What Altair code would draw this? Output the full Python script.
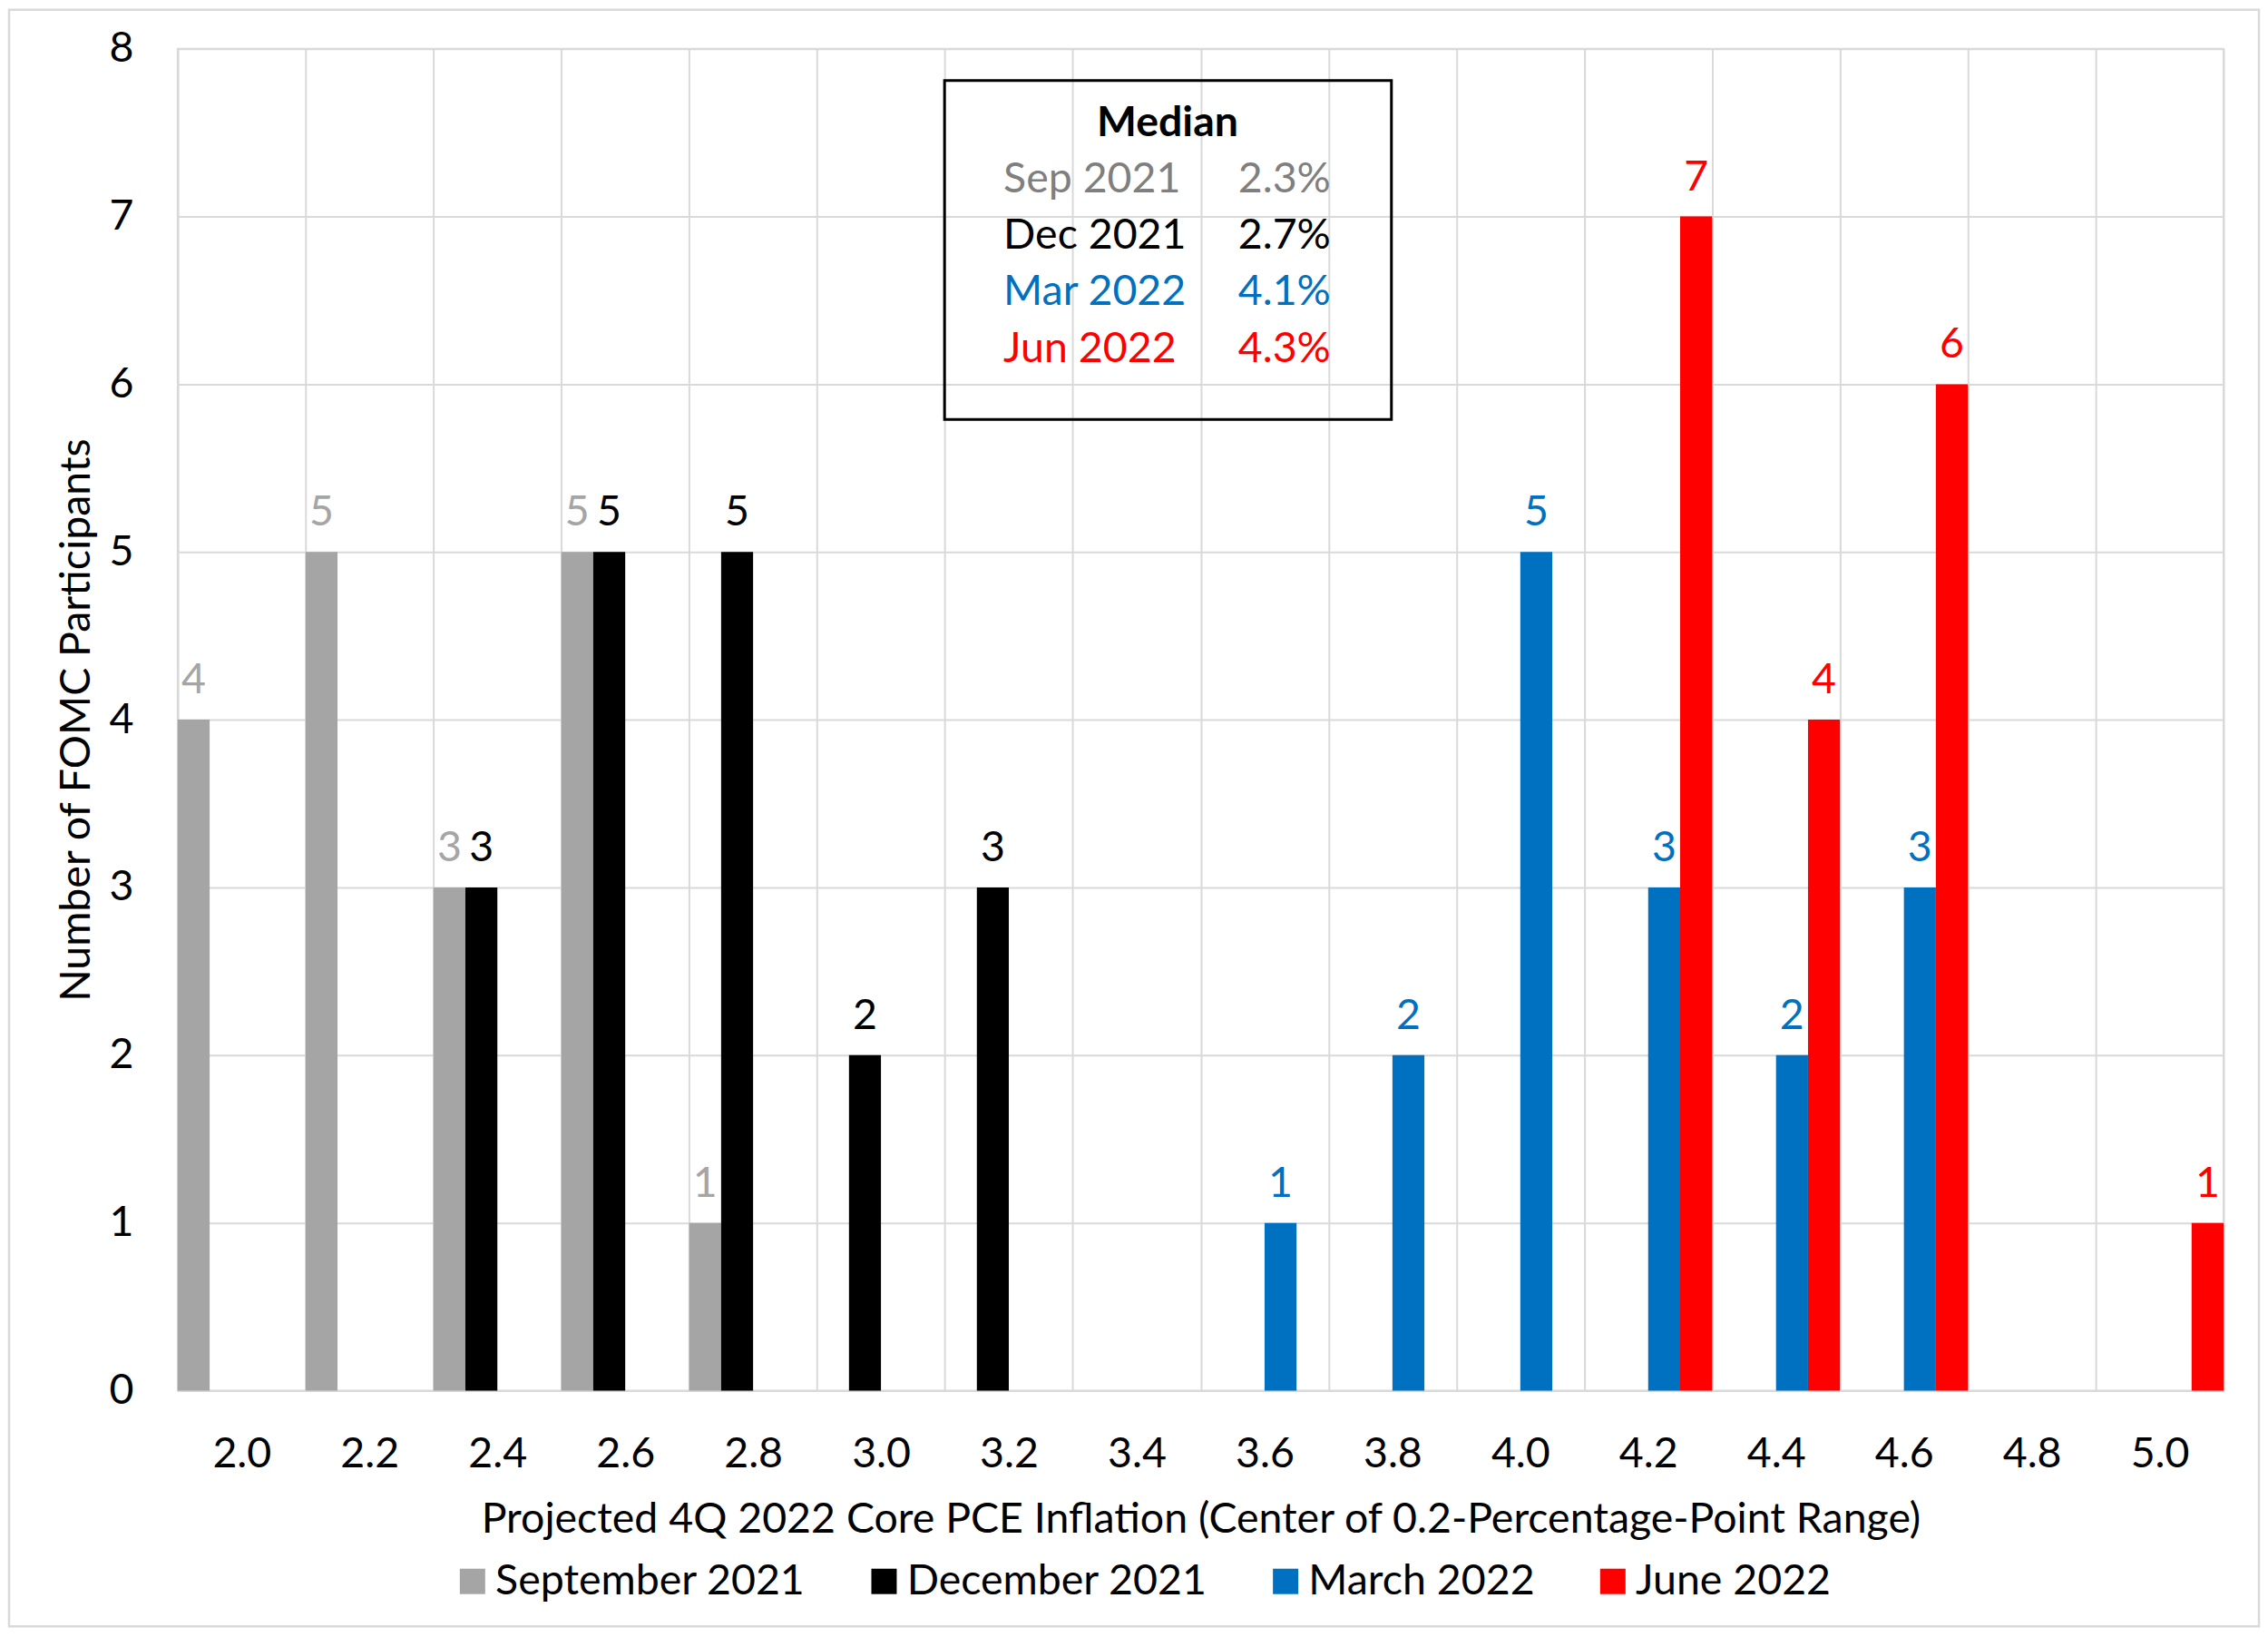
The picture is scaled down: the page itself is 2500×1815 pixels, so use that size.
import altair as alt
import pandas as pd

# ---------------- data ----------------
categories = ["2.0", "2.2", "2.4", "2.6", "2.8", "3.0", "3.2", "3.4",
              "3.6", "3.8", "4.0", "4.2", "4.4", "4.6", "4.8", "5.0"]
series_names = ["September 2021", "December 2021", "March 2022", "June 2022"]
series_colors = ["#A5A5A5", "#000000", "#0070C0", "#FF0000"]

sep_2021 = [4, 5, 3, 5, 1, 0, 0, 0, 0, 0, 0, 0, 0, 0, 0, 0]
dec_2021 = [0, 0, 3, 5, 5, 2, 3, 0, 0, 0, 0, 0, 0, 0, 0, 0]
mar_2022 = [0, 0, 0, 0, 0, 0, 0, 0, 1, 2, 5, 3, 2, 3, 0, 0]
jun_2022 = [0, 0, 0, 0, 0, 0, 0, 0, 0, 0, 0, 7, 4, 6, 0, 1]

median_title = "Median"
median_labels = ["Sep 2021", "Dec 2021", "Mar 2022", "Jun 2022"]
median_values = ["2.3%", "2.7%", "4.1%", "4.3%"]
median_colors = ["#7F7F7F", "#000000", "#0070C0", "#FF0000"]

x_title = "Projected 4Q 2022 Core PCE Inflation (Center of 0.2-Percentage-Point Range)"
y_title = "Number of FOMC Participants"

# ---------------- build table ----------------
rows = []
for name, vals in zip(series_names, [sep_2021, dec_2021, mar_2022, jun_2022]):
    for c, v in zip(categories, vals):
        if v > 0:
            rows.append({"bin": c, "series": name, "count": v})
df = pd.DataFrame(rows)

FONT = "Lato"
FS = 46.5
GRID = "#D9D9D9"
W, H = 2257, 1480

x_enc = alt.X(
    "bin:N",
    sort=categories,
    scale=alt.Scale(domain=categories, paddingInner=0, paddingOuter=0),
    axis=alt.Axis(
        title=x_title, labelAngle=0, grid=True, tickBand="extent",
        ticks=False, tickSize=0, labelPadding=47,
        labelFontSize=FS, labelFont=FONT, labelColor="black",
        titleFontSize=FS, titleFont=FONT, titleColor="black", titleFontWeight="normal",
        titleX=W / 2, titleY=142, titleBaseline="middle", titleAlign="center",
        gridColor=GRID, gridWidth=2, domainColor=GRID, domainWidth=2,
    ),
)
xoff_enc = alt.XOffset(
    "series:N", sort=series_names,
    scale=alt.Scale(domain=series_names, paddingInner=0, paddingOuter=0),
)
y_enc = alt.Y(
    "count:Q",
    scale=alt.Scale(domain=[0, 8], nice=False),
    axis=alt.Axis(
        values=list(range(9)), title=y_title, grid=True,
        ticks=False, tickSize=0, labelPadding=49,
        labelFontSize=FS, labelFont=FONT, labelColor="black",
        titleFontSize=FS, titleFont=FONT, titleColor="black", titleFontWeight="normal",
        titleAngle=270, titleX=-111, titleY=H / 2, titleBaseline="middle", titleAlign="center",
        gridColor=GRID, gridWidth=2, domainColor=GRID, domainWidth=2,
    ),
)
color_enc = alt.Color(
    "series:N",
    scale=alt.Scale(domain=series_names, range=series_colors),
    legend=alt.Legend(
        title=None, orient="none", legendX=302, legendY=1667, direction="horizontal",
        symbolType="square", symbolSize=784, symbolStrokeWidth=0, symbolOpacity=1,
        labelFontSize=FS, labelFont=FONT, labelColor="black", labelOffset=2,
        columnPadding=63, labelLimit=800, padding=0,
    ),
)

bars = alt.Chart(df).mark_bar(cornerRadius=0, strokeWidth=0).encode(
    x=x_enc, xOffset=xoff_enc, y=y_enc, color=color_enc
)
labels = alt.Chart(df).mark_text(
    baseline="alphabetic", align="center", dy=-29, fontSize=FS, font=FONT
).encode(x=x_enc, xOffset=xoff_enc, y=y_enc, text="count:Q", color=color_enc)

one = pd.DataFrame({"k": [0]})
border = alt.Chart(one).mark_rect(fillOpacity=0, stroke=GRID, strokeWidth=2.5).encode(
    x=alt.value(-186), x2=alt.value(2296), y=alt.value(-43), y2=alt.value(1740)
)
med_box = alt.Chart(one).mark_rect(fillOpacity=0, stroke="black", strokeWidth=3).encode(
    x=alt.value(846), x2=alt.value(1339), y=alt.value(35), y2=alt.value(409)
)
med_layers = [
    alt.Chart(pd.DataFrame({"t": [median_title]})).mark_text(
        font=FONT, fontSize=FS, fontWeight="bold", align="center", baseline="middle", color="black"
    ).encode(text="t:N", x=alt.value(1092), y=alt.value(82))
]
for i, (lab, val, col) in enumerate(zip(median_labels, median_values, median_colors)):
    yy = 144 + i * 62.5
    med_layers.append(
        alt.Chart(pd.DataFrame({"t": [lab]})).mark_text(
            font=FONT, fontSize=FS, align="left", baseline="middle", color=col
        ).encode(text="t:N", x=alt.value(911), y=alt.value(yy))
    )
    med_layers.append(
        alt.Chart(pd.DataFrame({"t": [val]})).mark_text(
            font=FONT, fontSize=FS, align="right", baseline="middle", color=col
        ).encode(text="t:N", x=alt.value(1272), y=alt.value(yy))
    )

chart = alt.layer(border, bars, labels, med_box, *med_layers).properties(
    width=W, height=H,
    autosize=alt.AutoSizeParams(type="none"),
    padding={"left": 188, "top": 45, "right": 41, "bottom": 265},
    background="white",
).configure(font=FONT).configure_view(stroke=GRID, strokeWidth=2)

chart.save("out.html", embed_options={"renderer": "svg", "actions": False})
